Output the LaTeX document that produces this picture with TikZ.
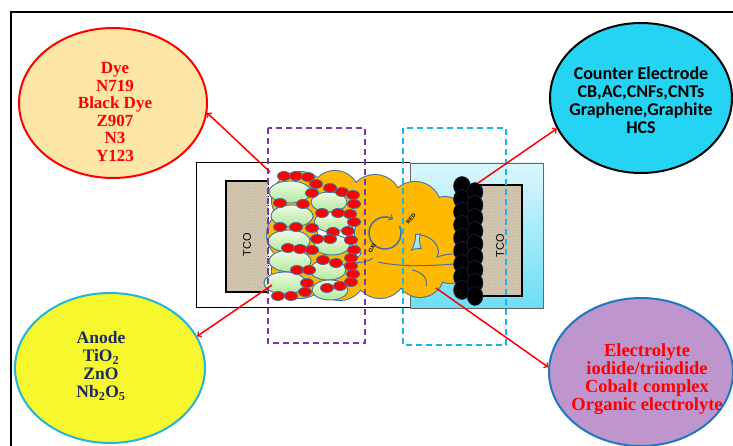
\documentclass[tikz,border=0pt]{standalone}
\usepackage{fontspec}
\setmainfont{Liberation Serif}
\setsansfont{Liberation Sans}
\newfontfamily\timesfont{Liberation Serif}
\newfontfamily\calib{Carlito}
\usetikzlibrary{shapes.geometric}
\usetikzlibrary{patterns}
\usetikzlibrary{arrows}

\definecolor{dyefill}{HTML}{FDE6A8}
\definecolor{anodefill}{HTML}{F7F72E}
\definecolor{anodeline}{HTML}{22B6DA}
\definecolor{anodetext}{HTML}{1C2A5C}
\definecolor{cefill}{HTML}{24D4F2}
\definecolor{elytefill}{HTML}{BF95CE}
\definecolor{elyteline}{HTML}{1F78C1}
\definecolor{cloudfill}{HTML}{FFB900}
\definecolor{cloudline}{HTML}{41719C}
\definecolor{tcofill}{HTML}{D9CDB8}
\definecolor{tcodark}{HTML}{B3A58C}
\definecolor{glasstop}{HTML}{DCF6FC}
\definecolor{glassbot}{HTML}{6CDEF6}
\definecolor{tiotop}{HTML}{EEFBE6}
\definecolor{tiobot}{HTML}{B2E898}
\definecolor{boxpurple}{HTML}{7B35B0}
\definecolor{boxblue}{HTML}{18B4F0}

\tikzset{
  bubble/.style={ellipse, line width=2pt, inner sep=0pt},
  bubbletext/.style={align=center, inner sep=0pt},
  link/.style={->, red, line width=1.5pt},
  tio/.style={draw=cloudline, line width=0.9pt, top color=tiotop, bottom color=tiobot},
  dyedot/.style={draw=cloudline, line width=0.9pt, fill=red},
  cept/.style={draw=anodetext, line width=0.5pt, fill=black},
  dashbox/.style={line width=2pt, dash pattern=on 6pt off 4pt},
  tcotext/.style={rotate=90, font=\sffamily\fontsize{11}{11}\selectfont},
  redox/.style={font=\sffamily\bfseries\fontsize{5.5}{5.5}\selectfont, inner sep=0pt},
}

\begin{document}
\begin{tikzpicture}[x=1pt,y=-1pt]
    \useasboundingbox (0,0) rectangle (733,446);
    \draw[line width=2.4pt] (11,446) -- (11,12) -- (733,12);

    % cell housing: bare glass on the left, coated glass on the right
    \draw[line width=1pt] (196,163) rectangle (410,307);
    \draw[draw=black!60, top color=glasstop, bottom color=glassbot] (410,163) rectangle (543,308);

    % TCO layers
    \fill[tcofill] (226,181) rectangle (268,292);
    \fill[pattern=crosshatch, pattern color=tcodark!45!tcofill] (226,181) rectangle (268,292);
    \draw[line width=1.2pt] (268,181) -- (226,181) -- (226,292) -- (268,292);
    \draw[dotted, line width=1pt] (268,181) -- (268,292);
    \node[tcotext] (tcoL) at (247,245) {TCO};

    \fill[tcofill] (478,185) rectangle (522,296);
    \fill[pattern=crosshatch, pattern color=tcodark!45!tcofill] (478,185) rectangle (522,296);
    \draw[line width=1.2pt] (478,185) rectangle (522,296);
    \node[tcotext] (tcoR) at (500,246) {TCO};

    % electrolyte cloud
    \foreach \cx/\cy/\r in {300/200/28, 300/270/28, 335/195/24, 340/275/25, 375/201/26,
                            415/208/26, 445/215/18, 380/272/26, 420/273/24, 450/265/18,
                            385/235/30, 440/240/20, 292/235/25}
        \draw[cloudline, line width=2pt] (\cx,\cy) circle (\r pt);
    \foreach \cx/\cy/\r in {300/200/28, 300/270/28, 335/195/24, 340/275/25, 375/201/26,
                            415/208/26, 445/215/18, 380/272/26, 420/273/24, 450/265/18,
                            385/235/30, 440/240/20, 292/235/25}
        \fill[cloudfill] (\cx,\cy) circle (\r pt);
    \draw[cloudline, line width=1pt] (421,235) .. controls (433,237) and (442,248) .. (437,257)
                                            .. controls (443,255) and (448,254) .. (454,254);
    \draw[cloudline, line width=1pt] (378,262) .. controls (400,267) and (430,266) .. (454,264);
    \draw[cloudline, line width=1pt] (412,270) .. controls (422,272) and (428,278) .. (426,286);
    \draw[cloudline, line width=1pt] (355,263) .. controls (362,262) and (368,262) .. (373,258);

    % redox cycle
    \draw[cloudline, line width=1.5pt, ->] (385,233) ++(25:16pt) arc[start angle=25, end angle=-300, radius=16pt];
    \node[redox, rotate=60] (oxi) at (372,248) {OXI};
    \node[redox, rotate=50] (red) at (411,219) {RED};

    % TiO2 particles
    \foreach \px/\py in {290/192, 292/216, 289/241, 290/261, 285/283}
        \draw[tio] (\px,\py) ellipse (21pt and 11pt);
    \foreach \px/\py in {329/202, 332/222, 332/245, 328/270, 330/290}
        \draw[tio] (\px,\py) ellipse (18pt and 10pt);

    % dye molecules
    \foreach \px/\py in {284/176, 296/176, 308/177, 316/184, 312/193, 330/188, 342/192, 353/195,
                         280/203, 303/204, 354/204, 322/213, 338/213, 350/214, 354/222, 280/227,
                         296/227, 312/228, 333/232, 348/231, 351/240, 317/239, 330/239, 354/250,
                         288/248, 300/249, 312/250, 351/258, 323/260, 336/263, 351/266, 297/270,
                         309/270, 353/274, 307/283, 327/288, 340/286, 351/282, 278/296, 291/296,
                         305/292}
        \draw[dyedot] (\px,\py) ellipse (6.5pt and 4.5pt);

    % counter electrode particles
    \foreach \py in {186, 199, 212, 225, 238, 251, 264, 277, 290}
        \draw[cept] (462,\py) ellipse (8.5pt and 9.5pt);
    \foreach \py in {192, 205, 218, 231, 244, 257, 270, 283, 296}
        \draw[cept] (475,\py) ellipse (8pt and 9.5pt);

    % photoanode and cathode regions
    \draw[dashbox, boxpurple] (268,128) rectangle (365,343);
    \draw[dashbox, boxblue] (403,128) rectangle (506,345);

    % component bubbles
    \node[bubble, draw=red, fill=dyefill, minimum width=188pt, minimum height=150pt] (dye) at (113,103) {};
    \node[bubbletext, text=red, font=\timesfont\bfseries\fontsize{17}{17.5}\selectfont] (dyetext) at (115,112)
        {Dye\\N719\\Black Dye\\Z907\\N3\\Y123};

    \node[bubble, draw=anodeline, fill=anodefill, minimum width=190pt, minimum height=150pt] (anode) at (110,368) {};
    \node[bubbletext, text=anodetext, font=\timesfont\bfseries\fontsize{17.5}{18}\selectfont] (anodetext) at (101,366)
        {Anode\\TiO\textsubscript{2}\\ZnO\\Nb\textsubscript{2}O\textsubscript{5}};

    \node[bubble, draw=black, fill=cefill, minimum width=182pt, minimum height=150pt] (ce) at (641,98) {};
    \node[bubbletext, text=black, font=\calib\bfseries\fontsize{18}{18}\selectfont] (cetext) at (641,100)
        {Counter Electrode\\CB,AC,CNFs,CNTs\\Graphene,Graphite\\HCS};

    \node[bubble, draw=elyteline, fill=elytefill, minimum width=184pt, minimum height=148pt] (elyte) at (641,372) {};
    \node[bubbletext, text=red, font=\timesfont\bfseries\fontsize{18.5}{18}\selectfont] (elytetext) at (647,379)
        {Electrolyte\\iodide/triiodide\\Cobalt complex\\Organic electrolyte};

    % pointers
    \coordinate (dyeA) at (270,172);
    \coordinate (anodeA) at (272,285);
    \coordinate (ceA) at (478,183);
    \coordinate (elyteA) at (436,288);
    \draw[link] (dyeA) -- (dye.-6);
    \draw[link] (anodeA) -- (anode.20);
    \draw[link] (ceA) -- (ce.200);
    \draw[link] (elyteA) -- (elyte.177);
\end{tikzpicture}
\end{document}
